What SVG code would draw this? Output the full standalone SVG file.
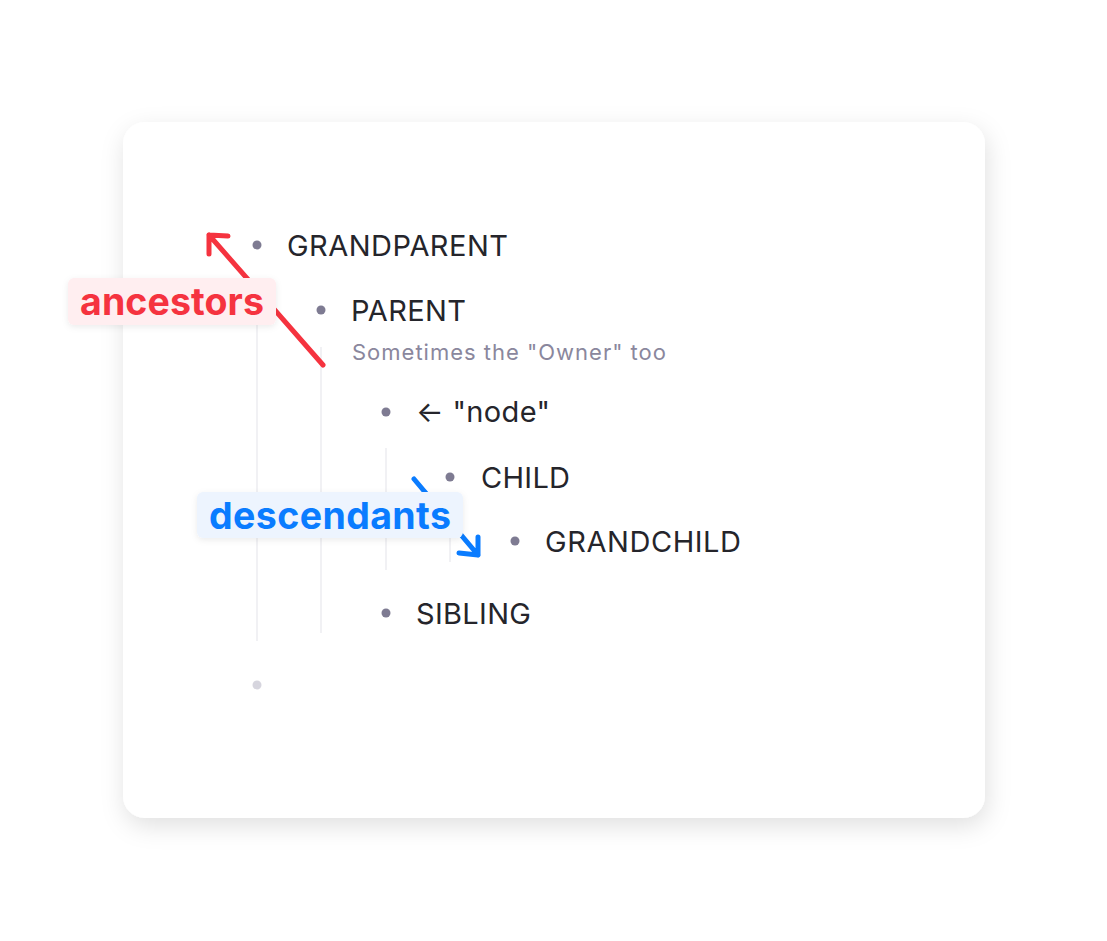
<svg xmlns="http://www.w3.org/2000/svg" width="1107" height="941" viewBox="0 0 1107 941">
<defs>
<filter id="cardShadow" x="-20%" y="-20%" width="140%" height="140%">
<feDropShadow dx="2" dy="8" stdDeviation="12" flood-color="#000" flood-opacity="0.12"/>
</filter>
<filter id="tagShadow" x="-20%" y="-40%" width="140%" height="180%">
<feDropShadow dx="0" dy="2" stdDeviation="3" flood-color="#000" flood-opacity="0.08"/>
</filter>
<style>
.t{font-family:Inter,"Noto Sans","Liberation Sans",sans-serif;font-size:29px;fill:#25252b}
.sub{font-family:Inter,"Noto Sans","Liberation Sans",sans-serif;font-size:22px;fill:#8a879d}
.dot{fill:#7e7b92}
.guide{stroke:#ececf0;stroke-width:1.5;fill:none}
.tag{font-family:Inter,"Noto Sans","Liberation Sans",sans-serif;font-size:37.5px;font-weight:700}
.arr{fill:none;stroke-width:5;stroke-linecap:round;stroke-linejoin:round}
</style>
</defs>
<rect width="1107" height="941" fill="#ffffff"/>
<rect id="card" x="123" y="122" width="862" height="696" rx="22" fill="#ffffff" filter="url(#cardShadow)"/>
<g id="guides">
<line class="guide" x1="257" y1="281" x2="257" y2="641"/>
<line class="guide" x1="321" y1="347" x2="321" y2="633"/>
<line class="guide" x1="386" y1="448" x2="386" y2="570"/>
<line class="guide" x1="450" y1="513" x2="450" y2="562"/>
</g>
<g id="grandparent"><circle class="dot" cx="257" cy="245" r="4.5"/><text class="t" x="287" y="256" textLength="221" lengthAdjust="spacing">GRANDPARENT</text></g>
<g id="parent"><circle class="dot" cx="321" cy="310" r="4.5"/><text class="t" x="351" y="321" textLength="115" lengthAdjust="spacing">PARENT</text><text class="sub" x="352" y="360" textLength="314" lengthAdjust="spacing">Sometimes the "Owner" too</text></g>
<g id="node"><circle class="dot" cx="386" cy="412" r="4.5"/><text class="t" x="416" y="422" textLength="134" lengthAdjust="spacing">← "node"</text></g>
<g id="child"><circle class="dot" cx="450" cy="477" r="4.5"/><text class="t" x="481" y="488" textLength="89" lengthAdjust="spacing">CHILD</text></g>
<g id="grandchild"><circle class="dot" cx="515" cy="541" r="4.5"/><text class="t" x="545" y="552" textLength="196" lengthAdjust="spacing">GRANDCHILD</text></g>
<g id="sibling"><circle class="dot" cx="386" cy="613" r="4.5"/><text class="t" x="416" y="624" textLength="115" lengthAdjust="spacing">SIBLING</text></g>
<g id="empty"><circle cx="257" cy="685" r="4.5" fill="#d6d5de"/></g>
<g id="connectors">
<path class="arr" stroke="#f5333f" d="M323,365 L209,235 M228,236 L209,235 L209,254"/>
<path class="arr" stroke="#0a7cff" d="M414,479 L478,555 M459,553 L478,555 L478,537"/>
</g>
<g id="ancestors">
<rect x="68" y="278" width="208" height="47" rx="6" fill="#ffeef0" filter="url(#tagShadow)"/>
<text class="tag" x="80" y="315" textLength="184" lengthAdjust="spacing" fill="#f5333f">ancestors</text>
</g>
<g id="descendants">
<rect x="197" y="492" width="266" height="46" rx="6" fill="#edf4fe" filter="url(#tagShadow)"/>
<text class="tag" x="209" y="529" textLength="242" lengthAdjust="spacing" fill="#0a7cff">descendants</text>
</g>
</svg>
